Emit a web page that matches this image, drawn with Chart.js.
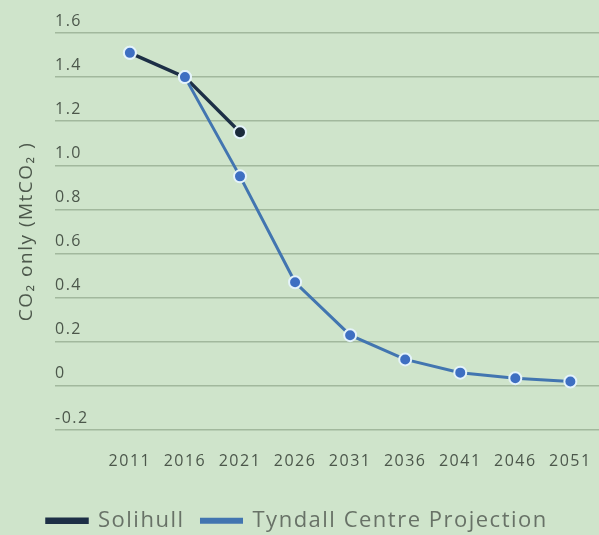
<!DOCTYPE html>
<html>
<head>
<meta charset="utf-8">
<script src="https://cdn.jsdelivr.net/npm/chart.js@4.4.1/dist/chart.umd.min.js"></script>
<style>
  html, body { margin: 0; padding: 0; background: #cfe4cb; }
  #wrap { width: 599px; height: 535px; position: relative; }
</style>
</head>
<body>
<div id="wrap"><canvas id="chart"></canvas></div>
<script>
/* CO2 emissions — Solihull actuals vs Tyndall Centre projection */
const years = [2011, 2016, 2021, 2026, 2031, 2036, 2041, 2046, 2051];
const yearLabels = ['2011', '2016', '2021', '2026', '2031', '2036', '2041', '2046', '2051'];
const solihull = [1.51, 1.40, 1.15];
const tyndall = [1.51, 1.40, 0.95, 0.47, 0.23, 0.12, 0.06, 0.035, 0.02];
const yTicks = [-0.2, 0, 0.2, 0.4, 0.6, 0.8, 1.0, 1.2, 1.4, 1.6];
const yTickLabels = ['-0.2', '0', '0.2', '0.4', '0.6', '0.8', '1.0', '1.2', '1.4', '1.6'];

const NAVY = '#1d2f46', BLUE = '#4275b0', TEXT = '#4c574b';
const FONT = '"Open Sans", sans-serif';

const toPoints = (vals) => vals.map((v, i) => ({ x: years[i], y: v }));

// wider tracking like the original typeface, and legend nudged into place
const tweaks = {
  id: 'tweaks',
  beforeLayout(c) { c.ctx.letterSpacing = '1.5px'; },
  beforeDraw(c) { c.ctx.letterSpacing = '1.5px'; },
  afterLayout(c) {
    const l = c.legend;
    l.left = 30;
    l.top += 21.5; l.bottom += 21.5;
  },
};

new Chart(document.getElementById('chart'), {
  type: 'line',
  data: {
    datasets: [
      {
        label: 'Tyndall Centre Projection',
        data: toPoints(tyndall),
        borderColor: BLUE,
        backgroundColor: '#4a7dcc',
        borderWidth: 3,
        pointRadius: 6,
        pointBackgroundColor: '#3e6fc2',
        pointBorderColor: '#e4f3fb',
        pointBorderWidth: 2,
        tension: 0,
        // first stretch is the measured Solihull line showing through
        segment: { borderColor: ctx => ctx.p0DataIndex === 0 ? 'rgba(0,0,0,0)' : BLUE },
      },
      {
        label: 'Solihull',
        data: toPoints(solihull),
        borderColor: NAVY,
        backgroundColor: NAVY,
        borderWidth: 3.5,
        pointRadius: 6,
        pointBackgroundColor: '#1b2a3c',
        pointBorderColor: '#e4f3fb',
        pointBorderWidth: 2,
        tension: 0,
      },
    ],
  },
  options: {
    responsive: true, maintainAspectRatio: false,
    animation: false,
    layout: { autoPadding: false, padding: { top: 33, left: 0, right: 0, bottom: 14.8 } },
    scales: {
      x: {
        type: 'linear',
        min: 2004.2, max: 2053.6,
        afterBuildTicks: s => { s.ticks = years.map(v => ({ value: v })); },
        grid: { display: true, drawOnChartArea: false, drawTicks: true, tickLength: 22, color: 'rgba(0,0,0,0)' },
        border: { display: false },
        ticks: {
          autoSkip: false, maxRotation: 0, padding: 0,
          color: TEXT, font: { family: FONT, size: 16 },
          callback: (v, i) => yearLabels[i],
        },
      },
      y: {
        min: -0.2, max: 1.6,
        afterBuildTicks: s => { s.ticks = yTicks.map(v => ({ value: v })); },
        grid: { color: '#a2b89d', lineWidth: 1.5, drawTicks: false },
        border: { display: false },
        ticks: {
          mirror: true, padding: 0, labelOffset: -12,
          color: TEXT, font: { family: FONT, size: 16 },
          callback: (v, i) => yTickLabels[i],
        },
        title: {
          display: true, text: 'CO₂ only (MtCO₂ )',
          color: TEXT, font: { family: FONT, size: 19 },
          padding: { top: 15.6, bottom: 16.6 },
        },
      },
    },
    plugins: {
      legend: {
        position: 'bottom', align: 'start',
        labels: {
          boxWidth: 40, boxHeight: 3, padding: 17,
          color: '#687267', font: { family: FONT, size: 22 },
          sort: (a, b) => b.datasetIndex - a.datasetIndex,
        },
      },
      tooltip: { enabled: false },
    },
  },
  plugins: [tweaks],
});
</script>
</body>
</html>
